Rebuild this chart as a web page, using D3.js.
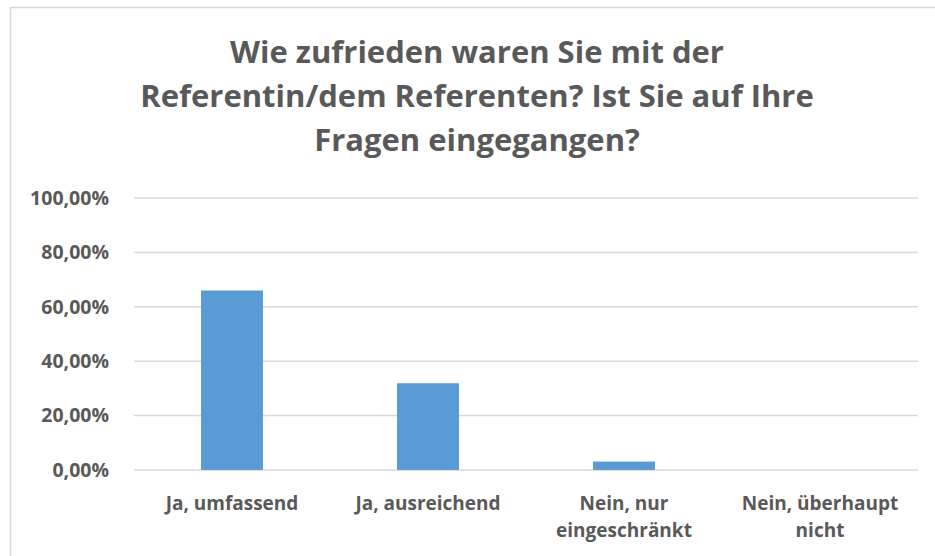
<!DOCTYPE html>
<html>
<head>
<meta charset="utf-8">
<script src="https://cdn.jsdelivr.net/npm/d3@7"></script>
<style>
  body { margin: 0; background: #fff; }
  svg { display: block; font-family: "Open Sans", sans-serif; }
</style>
</head>
<body>
<div class="container"></div>
<script>
// Data
const categories = ["Ja, umfassend", "Ja, ausreichend", "Nein, nur eingeschränkt", "Nein, überhaupt nicht"]
const categoryLines = [["Ja, umfassend"], ["Ja, ausreichend"], ["Nein, nur", "eingeschränkt"], ["Nein, überhaupt", "nicht"]]
const values = [66.0, 31.9, 3.1, 0]
const yTicks = [0, 20, 40, 60, 80, 100]
const titleLines = ["Wie zufrieden waren Sie mit der", "Referentin/dem Referenten? Ist Sie auf Ihre", "Fragen eingegangen?"]

const width = 935
const height = 556
const margin = {top: 198, right: 17, bottom: 86, left: 134}
const textColor = "#595959"

const svg = d3.select(".container")
    .append("svg")
    .attr("width", width)
    .attr("height", height)

// chart border
svg.append("rect")
    .attr("x", 10.5)
    .attr("y", 7.5)
    .attr("width", 940)
    .attr("height", 560)
    .attr("fill", "none")
    .attr("stroke", "#d9d9d9")
    .attr("stroke-width", 1.5)

// Title
svg.append("text")
    .attr("text-anchor", "middle")
    .style("font-size", "31px")
    .style("font-weight", 700)
    .style("fill", textColor)
    .selectAll("tspan")
    .data(titleLines)
    .enter()
    .append("tspan")
    .attr("x", 477)
    .attr("y", (d, i) => 63 + i * 44)
    .text(d => d)

const x = d3.scaleBand()
    .domain(categories)
    .range([margin.left, width - margin.right])
    .paddingInner(0.684)
    .paddingOuter(0.342)

const y = d3.scaleLinear()
    .domain([0, 100])
    .range([height - margin.bottom, margin.top])

// gridlines
svg.append("g")
    .selectAll("line")
    .data(yTicks)
    .enter()
    .append("line")
    .attr("x1", margin.left)
    .attr("x2", width - margin.right)
    .attr("y1", d => y(d))
    .attr("y2", d => y(d))
    .attr("stroke", "#d9d9d9")
    .attr("stroke-width", 1.5)

// y axis labels
const yAxis = d3.axisLeft(y)
    .tickValues(yTicks)
    .tickSize(0)
    .tickPadding(25)
    .tickFormat(d => d3.format(".2f")(d).replace(".", ",") + "%")

svg.append("g")
    .attr("transform", `translate(${margin.left}, 0)`)
    .call(yAxis)
    .call(g => g.select(".domain").remove())
    .selectAll("text")
    .style("font-family", "'Open Sans', sans-serif")
    .style("font-size", "19.5px")
    .style("font-weight", 700)
    .style("fill", textColor)

// bars
svg.append("g")
    .selectAll("rect")
    .data(values)
    .enter()
    .append("rect")
    .attr("x", (d, i) => x(categories[i]))
    .attr("y", d => y(d))
    .attr("width", x.bandwidth())
    .attr("height", d => y(0) - y(d))
    .attr("fill", "#5b9bd5")

// x labels
svg.append("g")
    .selectAll("text")
    .data(categories)
    .enter()
    .append("text")
    .attr("text-anchor", "middle")
    .style("font-size", "19px")
    .style("font-weight", 700)
    .style("fill", textColor)
    .each(function(d, i) {
        d3.select(this).selectAll("tspan")
            .data(categoryLines[i])
            .enter()
            .append("tspan")
            .attr("x", x(d) + x.bandwidth() / 2)
            .attr("y", (t, j) => 510 + j * 27)
            .text(t => t)
    })
</script>
</body>
</html>
